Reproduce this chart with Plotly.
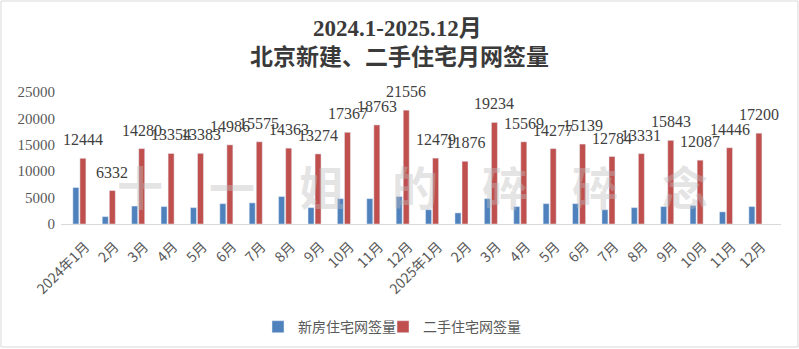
import plotly.graph_objects as go

# Monthly contract signings, Beijing, Jan 2024 - Dec 2025
months = ["2024年1月", "2月", "3月", "4月", "5月", "6月", "7月", "8月", "9月", "10月", "11月", "12月",
          "2025年1月", "2月", "3月", "4月", "5月", "6月", "7月", "8月", "9月", "10月", "11月", "12月"]
# unique x keys (month labels repeat across the two years)
x_keys = [f"{i:02d}" for i in range(len(months))]

new_homes = [6900, 1400, 3400, 3300, 3100, 3850, 4000, 5200, 3100, 4800, 4800, 5200,
             2700, 2100, 4800, 3300, 3850, 3850, 2700, 3100, 3300, 3500, 2300, 3300]
resale_homes = [12444, 6332, 14280, 13354, 13383, 14986, 15575, 14363, 13274, 17367, 18763, 21556,
                12479, 11876, 19234, 15569, 14277, 15139, 12784, 13331, 15843, 12087, 14446, 17200]

y_ticks = [0, 5000, 10000, 15000, 20000, 25000]

watermark_chars = ["十", "一", "姐", "的", "碎", "碎", "念"]
watermark_x = [140, 232, 322, 415, 505, 595, 685]

W, H = 799, 349
ML, MR, MT, MB = 61, 18, 92, 125
PW, PH = W - ML - MR, H - MT - MB
BARGAP = 0.52
# horizontal offset (px) of the second bar in each group
slot_px = PW / len(months) * (1 - BARGAP) / 2
red_shift = slot_px / 2

legend_font = dict(family="Noto Sans CJK SC, sans-serif", size=14, color="#595959")

fig = go.Figure()
fig.add_trace(go.Bar(
    x=x_keys, y=new_homes, name="新房住宅网签量",
    marker=dict(color="#4f81bd"), legend="legend",
))
fig.add_trace(go.Bar(
    x=x_keys, y=resale_homes, name="二手住宅网签量",
    marker=dict(color="#c0504d"), legend="legend2",
))

annotations = [
    dict(text="<b>2024.1-2025.12月</b>", xref="paper", yref="paper",
         x=(397 - ML) / PW, y=(H - MB - 28) / PH, xanchor="center", yanchor="middle",
         showarrow=False,
         font=dict(family="Liberation Serif, Noto Sans CJK SC, serif", size=23, color="#3a3a3a")),
    dict(text="<b>北京新建、二手住宅月网签量</b>", xref="paper", yref="paper",
         x=(399 - ML) / PW, y=(H - MB - 55) / PH, xanchor="center", yanchor="middle",
         showarrow=False,
         font=dict(family="Noto Sans CJK SC, sans-serif", size=23, color="#3a3a3a")),
]
for ch, px in zip(watermark_chars, watermark_x):
    annotations.append(dict(
        text=f"<b>{ch}</b>", xref="paper", yref="paper",
        x=(px - ML) / PW, y=(H - MB - 185) / PH, xanchor="center", yanchor="middle",
        showarrow=False,
        font=dict(family="Noto Sans CJK SC, sans-serif", size=46, color="rgba(190,190,190,0.42)"),
    ))
# value labels above the resale bars
for xk, v in zip(x_keys, resale_homes):
    annotations.append(dict(
        text=str(v), x=xk, y=v, xref="x", yref="y",
        xanchor="center", yanchor="bottom", xshift=red_shift, yshift=8,
        showarrow=False,
        font=dict(family="Liberation Serif, serif", size=16, color="#404040"),
    ))

legend_y = -0.66
fig.update_layout(
    width=W, height=H,
    margin=dict(l=ML, r=MR, t=MT, b=MB, autoexpand=False),
    paper_bgcolor="white", plot_bgcolor="white",
    barmode="group", bargap=BARGAP, bargroupgap=0.15,
    showlegend=True,
    legend=dict(orientation="h", x=(258 - ML) / PW, xanchor="left", y=legend_y, yanchor="top",
                font=legend_font, itemwidth=30, bgcolor="rgba(0,0,0,0)"),
    legend2=dict(orientation="h", x=(383 - ML) / PW, xanchor="left", y=legend_y, yanchor="top",
                 font=legend_font, itemwidth=30, bgcolor="rgba(0,0,0,0)"),
    annotations=annotations,
    shapes=[dict(type="rect", xref="paper", yref="paper",
                 x0=(1 - ML) / PW, x1=(W - 1 - ML) / PW,
                 y0=(H - MB - (H - 2)) / PH, y1=(H - MB - 1) / PH,
                 line=dict(color="#d9d9d9", width=1), layer="below")],
)
fig.update_xaxes(
    tickmode="array", tickvals=x_keys, ticktext=months, tickangle=-45,
    showline=True, linecolor="#d9d9d9", linewidth=1, ticks="",
    showgrid=False, automargin=False,
    ticklabelstandoff=8, ticklabelshift=6,
    tickfont=dict(family="Noto Sans CJK SC, sans-serif", size=14, color="#595959"),
)
fig.update_yaxes(
    range=[0, 25000], tickmode="array", tickvals=y_ticks, ticktext=[str(v) for v in y_ticks],
    showgrid=False, zeroline=False, showline=False, ticks="", automargin=False,
    ticklabelstandoff=5,
    tickfont=dict(family="Liberation Serif, serif", size=15, color="#595959"),
)

fig.write_html("out.html")
